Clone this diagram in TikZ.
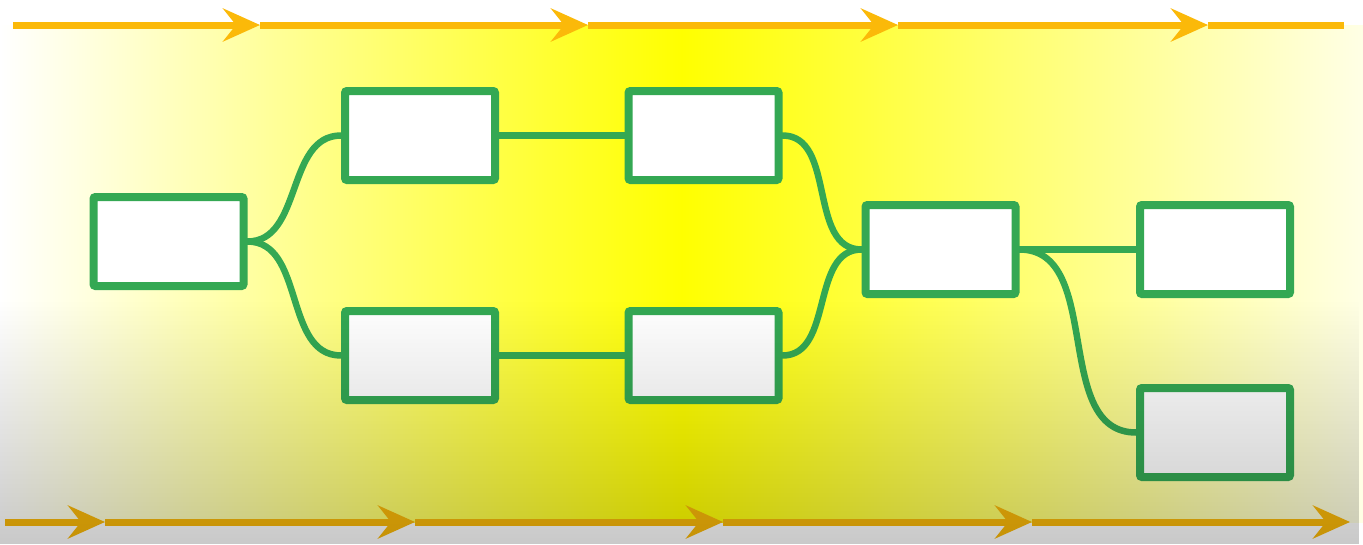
\documentclass[tikz,border=0pt]{standalone}
\usetikzlibrary{arrows.meta, fadings}
\definecolor{linkgreen}{RGB}{52,168,83}
\definecolor{flowgold}{RGB}{251,185,9}
\tikzfading[name=fade down, top color=transparent!100, bottom color=transparent!0]

\begin{document}
\begin{tikzpicture}[x=1pt, y=-1pt,
  blk/.style={draw=linkgreen, line width=8pt, fill=white, rounded corners=2pt,
    minimum width=150pt, minimum height=89pt, inner sep=0pt},
  link/.style={draw=linkgreen, line width=6.5pt, line cap=round},
  flow/.style={draw=flowgold, line width=7pt},
  tip/.style={-{Stealth[length=37pt, width=33pt, inset=13pt]}}]
\useasboundingbox (0,0) rectangle (1363,544);
\fill[white] (0,0) rectangle (1363,544);
\shade[left color=white, right color=white!90!yellow, middle color=yellow] (0,25) rectangle (1363,522);

% flow lines
\foreach \x [count=\i] in {13,260,588,898,1208,1344}
  \coordinate (t\i) at (\x,25);
\foreach \x [count=\i] in {5,105,415,723,1032,1350}
  \coordinate (b\i) at (\x,522);
\foreach \i [evaluate=\i as \j using int(\i+1)] in {1,...,4}
  \draw[flow, tip] (t\i) -- (t\j);
\draw[flow] (t5) -- (t6);
\foreach \i [evaluate=\i as \j using int(\i+1)] in {1,...,5}
  \draw[flow, tip] (b\i) -- (b\j);

% boxes
\node[blk] (src) at (168.5,241.5) {};
\node[blk] (up1) at (420,135.5) {};
\node[blk] (lo1) at (420,355.5) {};
\node[blk] (up2) at (703.5,135.5) {};
\node[blk] (lo2) at (703.5,355.5) {};
\node[blk] (mid) at (940.5,249.5) {};
\node[blk] (out1) at (1215,249.5) {};
\node[blk] (out2) at (1215,432.5) {};

% links
\draw[link] (src.east) to[out=0, in=180] (up1.west);
\draw[link] (src.east) to[out=0, in=180] (lo1.west);
\draw[link] (up1) -- (up2);
\draw[link] (lo1) -- (lo2);
\draw[link] (up2.east) to[out=0, in=180] (mid.west);
\draw[link] (lo2.east) to[out=0, in=180] (mid.west);
\draw[link] (mid) -- (out1);
\draw[link] (mid.east) to[out=0, in=180] (out2.west);

% grey shade over the lower part
\fill[black, fill opacity=0.21, path fading=fade down] (0,300) rectangle (1363,544);
\end{tikzpicture}
\end{document}
